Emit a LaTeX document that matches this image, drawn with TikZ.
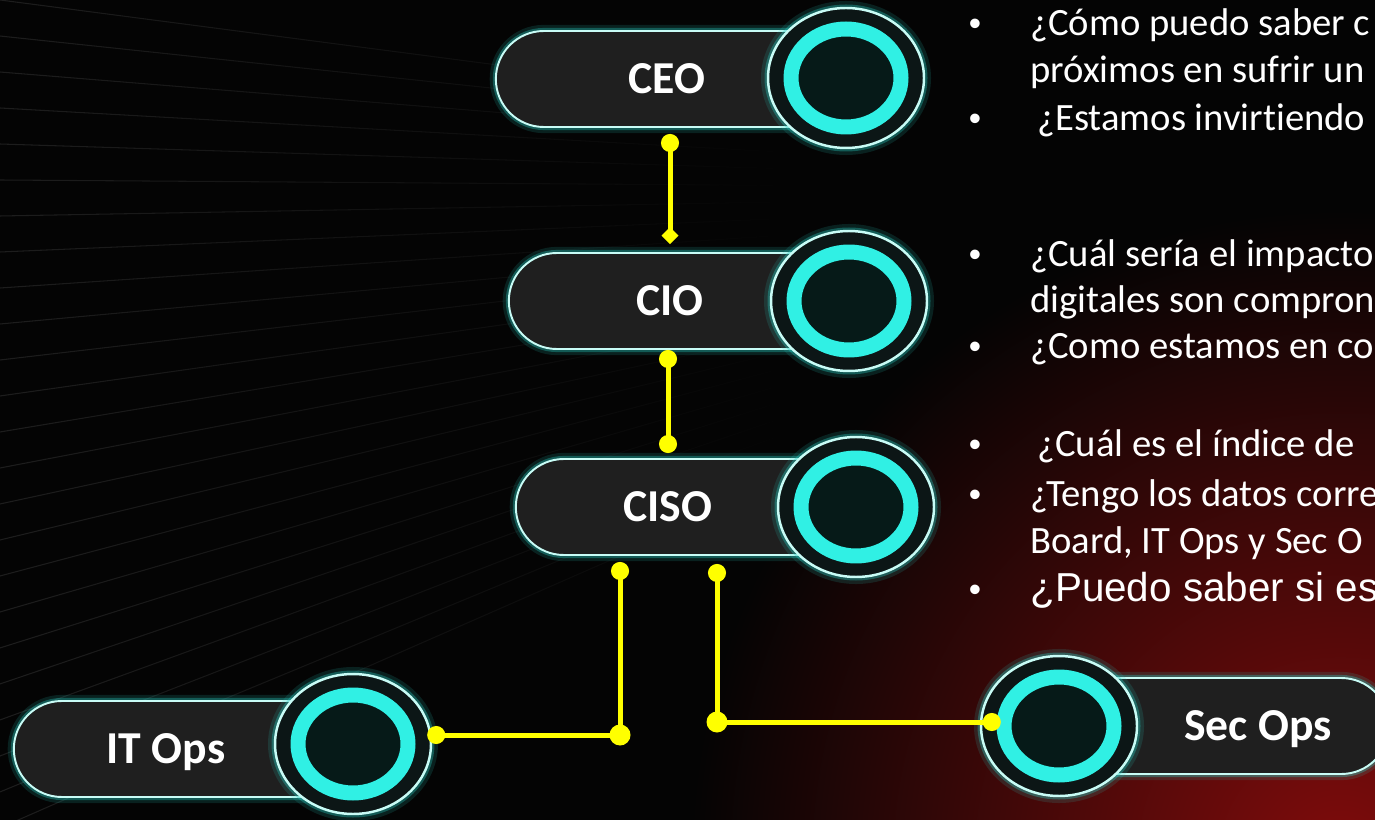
\documentclass[tikz,border=0pt]{standalone}
\usepackage{fontspec}
\setmainfont{Carlito}[Ligatures=NoCommon]
\newfontfamily\arialfont{Liberation Sans}
\usetikzlibrary{arrows.meta, positioning, shapes.geometric, shapes.misc, fadings}

\definecolor{bgblack}{RGB}{4,4,4}
\definecolor{bgred}{RGB}{128,12,12}
\definecolor{bgline}{RGB}{30,30,30}
\definecolor{pillgray}{RGB}{31,31,31}
\definecolor{rimcyan}{RGB}{200,252,246}
\definecolor{glowcyan}{RGB}{40,200,190}
\definecolor{bandcyan}{RGB}{48,240,228}
\definecolor{coredark}{RGB}{6,26,24}
\definecolor{gapdark}{RGB}{12,22,22}
\definecolor{linkyellow}{RGB}{255,255,0}

\begin{document}
\begin{tikzpicture}[
    x=0.02cm, y=-0.02cm,
    pill/.style={rounded rectangle, minimum height=1.92cm, inner sep=0pt,
        text depth=0pt, fill=pillgray, draw=rimcyan, line width=1.1pt, text=white,
        font=\bfseries\fontsize{26}{30}\selectfont,
        preaction={draw=glowcyan, line width=7pt, opacity=0.15},
        preaction={draw=glowcyan, line width=3.5pt, opacity=0.35}},
    pill left/.style={pill, rounded rectangle east arc=none},
    pill right/.style={pill, rounded rectangle west arc=none},
    ring rim/.style={ellipse, minimum width=3.12cm, minimum height=2.8cm, inner sep=0pt,
        fill=gapdark, draw=rimcyan, line width=1.4pt,
        preaction={draw=glowcyan, line width=8pt, opacity=0.15},
        preaction={draw=glowcyan, line width=4pt, opacity=0.35}},
    ring band/.style={ellipse, minimum width=2.2cm, minimum height=1.96cm, inner sep=0pt,
        fill=coredark, draw=bandcyan, line width=0.3cm},
    link/.style={draw=linkyellow, line width=0.1cm,
        {Circle[length=0.36cm]}-{Circle[length=0.36cm]}},
    joint/.style={fill=linkyellow},
    qline/.style={anchor=base west, inner sep=0pt, text=white,
        font=\fontsize{22}{26}\selectfont},
    qbullet/.style={anchor=base, inner sep=0pt, text=white,
        font=\arialfont\fontsize{20}{24}\selectfont}
]

% Background
\useasboundingbox (0,0) rectangle (1375,820);
\clip (0,0) rectangle (1375,820);
\fill[bgblack] (0,0) rectangle (1375,820);
\shade[inner color=bgred, outer color=bgblack] (1340,860) circle (13cm);
\foreach \y in {0,36,...,830}
    \draw[bgline, line width=0.6pt, path fading=east] (0,\y) -- (800,{190+(\y-190)*0.45});

% Pills
\node[pill left, minimum width=6.8cm] (ceo) at (667,79) {CEO};
\node[pill left, minimum width=6.4cm] (cio) at (670,301) {CIO};
\node[pill left, minimum width=6.04cm] (ciso) at (668,507) {CISO};
\node[pill left, minimum width=6.04cm] (itops) at (166,749) {IT Ops};
\node[pill right, minimum width=5.76cm] (secops) at (1244,726) {\hspace*{0.56cm}Sec Ops};

% Rings
\node[ring rim] (ceo-ring) at (846,78) {};
\node[ring band] at (ceo-ring) {};
\node[ring rim] (cio-ring) at (849,301) {};
\node[ring band] at (cio-ring) {};
\node[ring rim] (ciso-ring) at (856,507) {};
\node[ring band] at (ciso-ring) {};
\node[ring rim] (itops-ring) at (353,744) {};
\node[ring band] at (itops-ring) {};
\node[ring rim] (secops-ring) at (1059,726) {};
\node[ring band] at (secops-ring) {};

% Links
\draw[link, {Circle[length=0.36cm]}-{Diamond[length=0.34cm, width=0.34cm]}]
    ([yshift=-0.12cm]ceo.south -| cio.north) -- ([yshift=0.16cm]cio.north);
\draw[link] (cio.south -| ciso.north) -- ([yshift=0.1cm]ciso.north);

\coordinate (ciso-l) at ([xshift=-0.96cm, yshift=-0.12cm]ciso.south);
\coordinate (itops-in) at ([xshift=-0.1cm, yshift=0.18cm]itops-ring.east);
\draw[link] (ciso-l) |- (itops-in);
\fill[joint] (ciso-l |- itops-in) circle (0.21cm);

\coordinate (ciso-r) at ([xshift=0.98cm, yshift=-0.16cm]ciso.south);
\coordinate (secops-in) at ([xshift=0.42cm, yshift=0.08cm]secops-ring.west);
\draw[link] (ciso-r) |- (secops-in);
\fill[joint] (ciso-r |- secops-in) circle (0.21cm);

% Questions
\node[qbullet] (b1) at (975,36) {•};
\node[qline] (q1) at (1030,36) {¿Cómo puedo saber c};
\node[qline] (q2) at (1030,83) {próximos en sufrir un};
\node[qbullet] (b2) at (975,131) {•};
\node[qline] (q3) at (1037,131) {¿Estamos invirtiendo};

\node[qbullet] (b3) at (975,267) {•};
\node[qline] (q4) at (1030,267) {¿Cuál sería el impacto};
\node[qline] (q5) at (1030,313) {digitales son compron};
\node[qbullet] (b4) at (975,359) {•};
\node[qline] (q6) at (1030,359) {¿Como estamos en co};

\node[qbullet] (b5) at (975,457) {•};
\node[qline] (q7) at (1037,457) {¿Cuál es el índice de};
\node[qbullet] (b6) at (975,506) {•};
\node[qline] (q8) at (1030,506) {¿Tengo los datos corre};
\node[qline] (q9) at (1030,553) {Board, IT Ops y Sec O};
\node[qbullet] (b7) at (975,601) {•};
\node[qline, font=\arialfont\fontsize{23}{28}\selectfont] (q10) at (1030,601) {¿Puedo saber si es};

\end{tikzpicture}
\end{document}
